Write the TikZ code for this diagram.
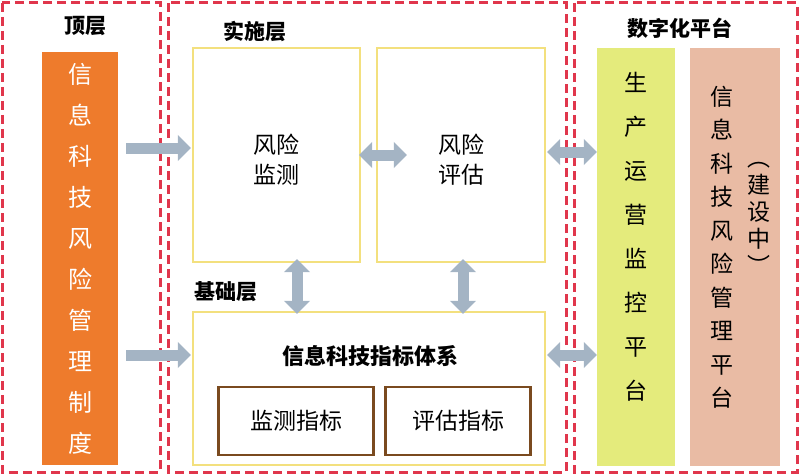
\documentclass[tikz,border=0pt]{standalone}
\usepackage{fontspec}
\setmainfont{Noto Sans CJK SC}
\usetikzlibrary{arrows.meta}
\definecolor{redd}{HTML}{E0364C}
\definecolor{orng}{HTML}{EE7B2C}
\definecolor{grn}{HTML}{E4EB7C}
\definecolor{pnk}{HTML}{E9BBA4}
\definecolor{ylw}{HTML}{F3E07E}
\definecolor{brn}{HTML}{7A4A1F}
\definecolor{arr}{HTML}{A4B4C4}
\tikzset{
 panel/.style={draw=redd,line width=3pt,dash pattern=on 9pt off 5pt},
 ybox/.style={draw=ylw,line width=1.5pt,fill=white},
 sub/.style={draw=brn,line width=2.5pt,fill=white,font=\fontsize{23}{26}\selectfont},
 head/.style={font=\bfseries\fontsize{21}{24}\selectfont},
 blk/.style={line width=11pt,color=arr,-{Triangle[width=0pt 2.3,length=0pt 1.2]}},
 dblk/.style={line width=11pt,color=arr,{Triangle[width=0pt 2.3,length=0pt 1.2]}-{Triangle[width=0pt 2.3,length=0pt 1.2]}},
}
\begin{document}
\begin{tikzpicture}[x=1pt,y=-1pt]
\useasboundingbox (0,0) rectangle (800,476);
\draw[panel] (2,3) rectangle (160,472);
\draw[panel] (168,3) rectangle (566,472);
\draw[panel] (574,3) rectangle (797,472);
\node[head] (h1) at (85,26) {顶层};
\node[head] (h2) at (255,31) {实施层};
\node[head] (h3) at (226,292) {基础层};
\node[head] (h4) at (680,28) {数字化平台};
\node[fill=orng,minimum width=76pt,minimum height=413pt] (org) at (80,258.5) {};
\node[text=white,align=center,font=\fontsize{24}{41}\selectfont] at (org) {信\\息\\科\\技\\风\\险\\管\\理\\制\\度};
\node[ybox,minimum width=167pt,minimum height=214pt] (mon) at (276.5,155) {};
\node[align=center,font=\fontsize{23}{30}\selectfont] at (276.5,160) {风险\\监测};
\node[ybox,minimum width=168pt,minimum height=214pt] (eva) at (461,155) {};
\node[align=center,font=\fontsize{23}{30}\selectfont] at (461,160) {风险\\评估};
\node[ybox,minimum width=352pt,minimum height=153pt] (base) at (369,388.5) {};
\node[font=\bfseries\fontsize{22}{26}\selectfont] (bt) at (370,356) {信息科技指标体系};
\node[sub,minimum width=155pt,minimum height=68pt] (s1) at (296,421) {监测指标};
\node[sub,minimum width=145pt,minimum height=68pt] (s2) at (458,421) {评估指标};
\node[fill=grn,minimum width=78pt,minimum height=417pt] (gr) at (636,257) {};
\node[align=center,font=\fontsize{23}{44}\selectfont] at (636,237) {生\\产\\运\\营\\监\\控\\平\\台};
\node[fill=pnk,minimum width=90pt,minimum height=417pt] (pk) at (735,257) {};
\node[align=center,font=\fontsize{23}{33.5}\selectfont] at (722,247) {信\\息\\科\\技\\风\\险\\管\\理\\平\\台};
\node[align=center,font=\fontsize{23}{27}\selectfont] at (759,218) {︵\\建\\设\\中\\︶};
\coordinate (a1s) at (126,148); \coordinate (a1e) at (191,148);
\coordinate (a2s) at (126,355); \coordinate (a2e) at (191,355);
\draw[blk] (a1s) -- (a1e);
\draw[blk] (a2s) -- (a2e);
\draw[dblk] (359,155) -- (407,155);
\draw[dblk] (297,259) -- (297,314);
\draw[dblk] (463,259) -- (463,314);
\draw[dblk] (547,152) -- (597,152);
\draw[dblk] (547,355) -- (597,355);
\end{tikzpicture}
\end{document}
